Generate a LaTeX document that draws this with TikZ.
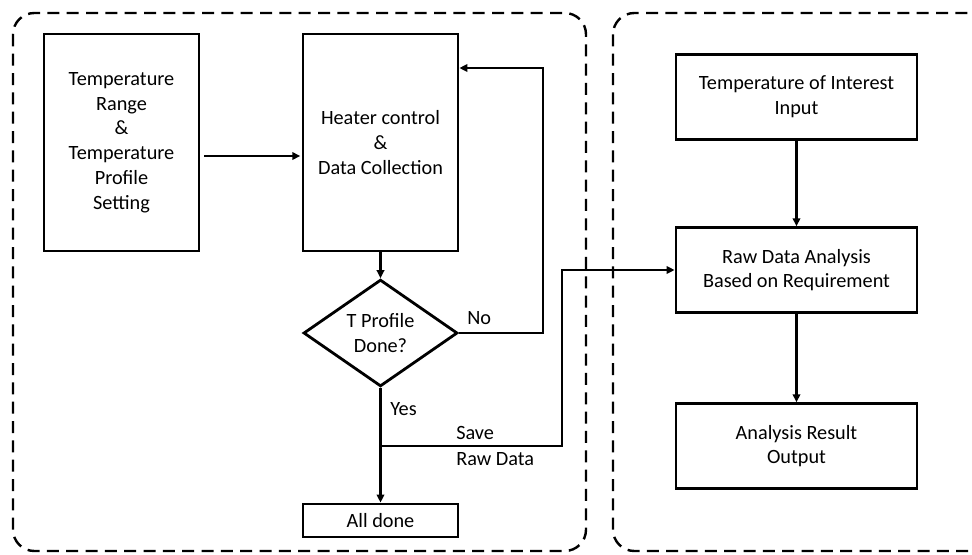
\documentclass[tikz,border=0pt]{standalone}
\usepackage{fontspec}
\setmainfont{Carlito}
\usetikzlibrary{arrows.meta,shapes.geometric}
\begin{document}
\begin{tikzpicture}[x=0.75pt,y=-0.75pt,
  every node/.style={font=\fontsize{15.2pt}{18.6pt}\selectfont, align=center, inner sep=0pt},
  box/.style={draw, line width=2.1pt, minimum width=116.25pt},
  rbox/.style={draw, line width=2.1pt, minimum width=180.75pt, minimum height=63.5pt},
  arr/.style={line width=1.7pt, -{Triangle[length=6pt,width=5.6pt]}},
  group/.style={dashed, line width=1.8pt, dash pattern=on 9pt off 5.5pt, rounded corners=16pt},
  lbl/.style={font=\fontsize{15.2pt}{19.5pt}\selectfont}
]
\clip (0,0) rectangle (972,554);
\useasboundingbox (0,0) rectangle (972,554);
% groups
\draw[group] (13,13) rectangle (586,551);
\draw[group] (613,13) rectangle (992,551);
% left column nodes
\node[box, minimum height=162.75pt] (tr) at (121.5,142.5) {Temperature\\Range\\\&\\Temperature\\Profile\\Setting};
\node[box, minimum height=162.75pt] (hc) at (380.5,142.5) {Heater control\\\&\\Data Collection};
\node[draw, line width=2.1pt, shape=diamond, minimum width=115.5pt, minimum height=78pt] (dia) at (380.5,333) {T Profile\\Done?};
\node[box, minimum height=24.75pt] (ad) at (380.5,520.5) {All done};
% right column nodes
\node[rbox] (toi) at (796.5,97) {Temperature of Interest\\Input};
\node[rbox] (rda) at (796.5,270) {Raw Data Analysis\\Based on Requirement};
\node[rbox] (aro) at (796.5,446) {Analysis Result\\Output};
% helper coordinates
\coordinate (ya) at (0,156);
\coordinate (nr) at (543,68);
\coordinate (br) at (380.5,446);
\coordinate (bk) at (562,446);
% connectors
\draw[arr] ([xshift=3pt]tr.east |- ya) -- ([xshift=-1pt]hc.west |- ya);
\draw[arr] (hc.south) -- (dia.north);
\draw[arr] (dia.east) -| (nr) -- (hc.east |- nr);
\draw[arr] (dia.south) -- (ad.north);
\draw[arr] (br) -- (bk) |- (rda.west);
\draw[arr] (toi.south) -- (rda.north);
\draw[arr] (rda.south) -- (aro.north);
% labels
\node[anchor=west] (lno) at (467,318) {No};
\node[anchor=west] (lyes) at (390,409) {Yes};
\node[lbl, anchor=west, align=left] (lsave) at (456,446) {Save\\Raw Data};
\end{tikzpicture}
\end{document}
